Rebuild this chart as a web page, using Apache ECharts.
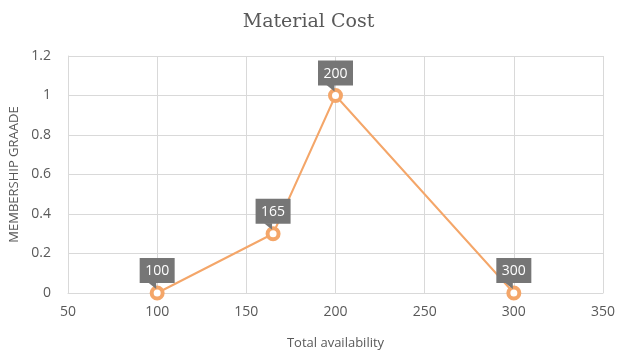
<!DOCTYPE html>
<html>
<head>
<meta charset="utf-8">
<script src="https://cdn.jsdelivr.net/npm/echarts@6/dist/echarts.min.js"></script>
<style>
  html, body { margin: 0; padding: 0; background: #ffffff; }
  #chart { width: 617px; height: 353px; }
</style>
</head>
<body>
<div id="chart"></div>
<script>
// Total availability values (x) and their membership grades (y)
const availability = [100, 165, 200, 300];
const membership = [0, 0.3, 1, 0];
const xTicks = [50, 100, 150, 200, 250, 300, 350];
const yTicks = [0, 0.2, 0.4, 0.6, 0.8, 1, 1.2];

const points = availability.map((x, i) => [x, membership[i]]);

const ORANGE = '#F4A669';
const LABEL_BG = '#767676';
const TEXT = '#595959';
const GRID = '#d9d9d9';

const chart = echarts.init(document.getElementById('chart'));

chart.setOption({
  animation: false,
  title: {
    text: 'Material Cost',
    left: 'center',
    top: 8,
    textStyle: {
      fontFamily: 'DejaVu Serif',
      fontSize: 19,
      fontWeight: 'normal',
      color: TEXT
    }
  },
  grid: { left: 68, right: 14, top: 56, bottom: 60, outerBoundsMode: 'none', containLabel: false },
  xAxis: {
    type: 'value',
    min: xTicks[0],
    max: xTicks[xTicks.length - 1],
    interval: xTicks[1] - xTicks[0],
    name: 'Total availability',
    nameLocation: 'middle',
    nameGap: 44,
    nameTextStyle: { fontFamily: 'Open Sans', fontSize: 13, color: TEXT },
    axisLine: { show: true, lineStyle: { color: GRID, width: 1 } },
    axisTick: { show: false },
    axisLabel: { fontFamily: 'Open Sans', fontSize: 14, color: TEXT, margin: 12 },
    splitLine: { show: true, lineStyle: { color: GRID, width: 1 } }
  },
  yAxis: {
    type: 'value',
    min: yTicks[0],
    max: yTicks[yTicks.length - 1],
    interval: 0.2,
    name: 'MEMBERSHIP GRAADE',
    nameLocation: 'middle',
    nameGap: 45,
    nameTextStyle: { fontFamily: 'Open Sans', fontSize: 13, color: TEXT },
    axisLine: { show: true, lineStyle: { color: GRID, width: 1 } },
    axisTick: { show: false },
    axisLabel: {
      fontFamily: 'Open Sans', fontSize: 14, color: TEXT, margin: 17,
      formatter: v => String(Math.round(v * 10) / 10)
    },
    splitLine: { show: true, lineStyle: { color: GRID, width: 1 } }
  },
  series: [
    {
      type: 'line',
      data: points,
      symbol: 'circle',
      symbolSize: 11,
      showAllSymbol: true,
      lineStyle: { color: ORANGE, width: 2 },
      itemStyle: { color: '#ffffff', borderColor: ORANGE, borderWidth: 4 },
      emphasis: { disabled: true },
      z: 3
    },
    {
      // callout boxes showing each point's availability value
      type: 'custom',
      data: points,
      z: 4,
      renderItem: function (params, api) {
        const p = api.coord([api.value(0), api.value(1)]);
        const w = 35, h = 25;
        const bx = p[0] - w / 2;
        const by = p[1] - 10 - h;
        return {
          type: 'group',
          children: [
            {
              type: 'rect',
              shape: { x: bx, y: by, width: w, height: h },
              style: { fill: LABEL_BG }
            },
            {
              type: 'polygon',
              shape: {
                points: [
                  [p[0] - 9, by + h - 0.5],
                  [p[0] - 1, by + h - 0.5],
                  [p[0] - 1, p[1] - 4]
                ]
              },
              style: { fill: LABEL_BG }
            },
            {
              type: 'text',
              style: {
                text: String(api.value(0)),
                x: bx + w / 2,
                y: by + h / 2 + 1,
                align: 'center',
                verticalAlign: 'middle',
                fill: '#ffffff',
                fontFamily: 'Open Sans',
                fontSize: 14
              }
            }
          ]
        };
      }
    }
  ]
});
</script>
</body>
</html>
